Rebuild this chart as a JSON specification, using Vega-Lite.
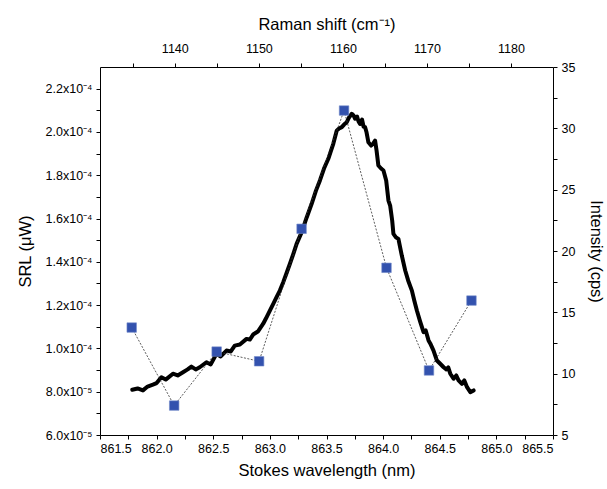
{
  "$schema": "https://vega.github.io/schema/vega-lite/v6.json",
  "width": 453,
  "height": 368,
  "autosize": {"type": "none"},
  "padding": {"left": 100, "top": 67, "right": 54, "bottom": 54},
  "config": {
    "font": "Liberation Sans",
    "view": {"stroke": null}
  },
  "resolve": {"scale": {"x": "independent", "y": "independent"}},
  "layer": [
    {
      "data": {
        "values": [
          {"wavelength": 861.785, "srl": 8.09e-5},
          {"wavelength": 861.832, "srl": 8.15e-5},
          {"wavelength": 861.879, "srl": 8.06e-5},
          {"wavelength": 861.92, "srl": 8.24e-5},
          {"wavelength": 861.967, "srl": 8.33e-5},
          {"wavelength": 862.0, "srl": 8.4e-5},
          {"wavelength": 862.042, "srl": 8.67e-5},
          {"wavelength": 862.08, "srl": 8.56e-5},
          {"wavelength": 862.144, "srl": 8.83e-5},
          {"wavelength": 862.186, "srl": 8.75e-5},
          {"wavelength": 862.233, "srl": 8.9e-5},
          {"wavelength": 862.274, "srl": 9.03e-5},
          {"wavelength": 862.307, "srl": 9.16e-5},
          {"wavelength": 862.345, "srl": 9.03e-5},
          {"wavelength": 862.381, "srl": 9.13e-5},
          {"wavelength": 862.44, "srl": 9.36e-5},
          {"wavelength": 862.478, "srl": 9.26e-5},
          {"wavelength": 862.528, "srl": 9.75e-5},
          {"wavelength": 862.566, "srl": 9.63e-5},
          {"wavelength": 862.617, "srl": 9.9e-5},
          {"wavelength": 862.655, "srl": 9.86e-5},
          {"wavelength": 862.69, "srl": 1.013e-4},
          {"wavelength": 862.735, "srl": 1.018e-4},
          {"wavelength": 862.794, "srl": 1.044e-4},
          {"wavelength": 862.823, "srl": 1.041e-4},
          {"wavelength": 862.852, "srl": 1.064e-4},
          {"wavelength": 862.894, "srl": 1.078e-4},
          {"wavelength": 862.941, "srl": 1.114e-4},
          {"wavelength": 862.965, "srl": 1.138e-4},
          {"wavelength": 863.0, "srl": 1.175e-4},
          {"wavelength": 863.031, "srl": 1.207e-4},
          {"wavelength": 863.059, "srl": 1.237e-4},
          {"wavelength": 863.088, "srl": 1.267e-4},
          {"wavelength": 863.118, "srl": 1.306e-4},
          {"wavelength": 863.146, "srl": 1.346e-4},
          {"wavelength": 863.177, "srl": 1.391e-4},
          {"wavelength": 863.208, "srl": 1.438e-4},
          {"wavelength": 863.236, "srl": 1.483e-4},
          {"wavelength": 863.281, "srl": 1.537e-4},
          {"wavelength": 863.325, "srl": 1.605e-4},
          {"wavelength": 863.369, "srl": 1.668e-4},
          {"wavelength": 863.407, "srl": 1.729e-4},
          {"wavelength": 863.442, "srl": 1.776e-4},
          {"wavelength": 863.478, "srl": 1.831e-4},
          {"wavelength": 863.516, "srl": 1.876e-4},
          {"wavelength": 863.54, "srl": 1.914e-4},
          {"wavelength": 863.56, "srl": 1.945e-4},
          {"wavelength": 863.59, "srl": 2.006e-4},
          {"wavelength": 863.611, "srl": 2.016e-4},
          {"wavelength": 863.635, "srl": 2.022e-4},
          {"wavelength": 863.655, "srl": 2.034e-4},
          {"wavelength": 863.679, "srl": 2.045e-4},
          {"wavelength": 863.699, "srl": 2.067e-4},
          {"wavelength": 863.723, "srl": 2.084e-4},
          {"wavelength": 863.739, "srl": 2.076e-4},
          {"wavelength": 863.752, "srl": 2.061e-4},
          {"wavelength": 863.77, "srl": 2.071e-4},
          {"wavelength": 863.783, "srl": 2.048e-4},
          {"wavelength": 863.796, "srl": 2.037e-4},
          {"wavelength": 863.814, "srl": 2.057e-4},
          {"wavelength": 863.827, "srl": 2.025e-4},
          {"wavelength": 863.841, "srl": 2.022e-4},
          {"wavelength": 863.854, "srl": 1.997e-4},
          {"wavelength": 863.87, "srl": 1.952e-4},
          {"wavelength": 863.894, "srl": 1.937e-4},
          {"wavelength": 863.912, "srl": 1.946e-4},
          {"wavelength": 863.929, "srl": 1.96e-4},
          {"wavelength": 863.942, "srl": 1.914e-4},
          {"wavelength": 863.958, "srl": 1.845e-4},
          {"wavelength": 863.982, "srl": 1.831e-4},
          {"wavelength": 864.003, "srl": 1.822e-4},
          {"wavelength": 864.027, "srl": 1.776e-4},
          {"wavelength": 864.047, "srl": 1.683e-4},
          {"wavelength": 864.062, "srl": 1.66e-4},
          {"wavelength": 864.08, "srl": 1.591e-4},
          {"wavelength": 864.091, "srl": 1.529e-4},
          {"wavelength": 864.115, "srl": 1.512e-4},
          {"wavelength": 864.135, "srl": 1.506e-4},
          {"wavelength": 864.165, "srl": 1.429e-4},
          {"wavelength": 864.195, "srl": 1.36e-4},
          {"wavelength": 864.221, "srl": 1.314e-4},
          {"wavelength": 864.254, "srl": 1.267e-4},
          {"wavelength": 864.275, "srl": 1.221e-4},
          {"wavelength": 864.298, "srl": 1.175e-4},
          {"wavelength": 864.327, "srl": 1.124e-4},
          {"wavelength": 864.357, "srl": 1.075e-4},
          {"wavelength": 864.376, "srl": 1.083e-4},
          {"wavelength": 864.401, "srl": 1.037e-4},
          {"wavelength": 864.416, "srl": 1.023e-4},
          {"wavelength": 864.445, "srl": 9.9e-5},
          {"wavelength": 864.475, "srl": 9.44e-5},
          {"wavelength": 864.504, "srl": 9.29e-5},
          {"wavelength": 864.534, "srl": 9.13e-5},
          {"wavelength": 864.558, "srl": 9.03e-5},
          {"wavelength": 864.575, "srl": 9.12e-5},
          {"wavelength": 864.593, "srl": 8.83e-5},
          {"wavelength": 864.622, "srl": 8.6e-5},
          {"wavelength": 864.646, "srl": 8.75e-5},
          {"wavelength": 864.666, "srl": 8.52e-5},
          {"wavelength": 864.696, "srl": 8.36e-5},
          {"wavelength": 864.717, "srl": 8.52e-5},
          {"wavelength": 864.741, "srl": 8.21e-5},
          {"wavelength": 864.77, "srl": 7.98e-5},
          {"wavelength": 864.799, "srl": 8.06e-5}
        ]
      },
      "mark": {"type": "line", "color": "black", "strokeWidth": 4, "strokeJoin": "round", "strokeCap": "round"},
      "encoding": {
        "x": {
          "field": "wavelength",
          "type": "quantitative",
          "scale": {"domain": [861.5, 865.5], "nice": false, "zero": false},
          "axis": {
            "orient": "bottom",
            "title": "Stokes wavelength (nm)",
            "grid": false,
            "domain": true,
            "ticks": true,
            "domainColor": "black",
            "domainWidth": 1,
            "tickColor": "black",
            "tickWidth": 1,
            "tickSize": 4,
            "labelColor": "black",
            "titleColor": "black",
            "labelFontSize": 12.5,
            "titleFontSize": 16.5,
            "titleFontWeight": "normal",
            "values": [861.5, 861.75, 862, 862.25, 862.5, 862.75, 863, 863.25, 863.5, 863.75, 864, 864.25, 864.5, 864.75, 865, 865.25, 865.5],
            "labelExpr": "round(datum.value * 4) % 2 == 0 ? format(datum.value, '.1f') : ''",
            "labelPadding": 3,
            "titlePadding": 8
          }
        },
        "y": {
          "field": "srl",
          "type": "quantitative",
          "scale": {"domain": [6e-5, 2.3e-4], "nice": false, "zero": false},
          "axis": {
            "orient": "left",
            "title": "SRL (μW)",
            "grid": false,
            "domain": true,
            "ticks": true,
            "domainColor": "black",
            "domainWidth": 1,
            "tickColor": "black",
            "tickWidth": 1,
            "tickSize": 4,
            "labelColor": "black",
            "titleColor": "black",
            "labelFontSize": 12.5,
            "titleFontSize": 16.5,
            "titleFontWeight": "normal",
            "values": [6e-5, 7e-5, 8e-5, 9e-5, 1e-4, 1.1e-4, 1.2e-4, 1.3e-4, 1.4e-4, 1.5e-4, 1.6e-4, 1.7e-4, 1.8e-4, 1.9e-4, 2e-4, 2.1e-4, 2.2e-4],
            "labelExpr": "round(datum.value * 1e5) % 2 != 0 ? '' : (datum.value >= 9.9e-5 ? format(datum.value * 1e4, '.1f') + 'x10⁻⁴' : format(datum.value * 1e5, '.1f') + 'x10⁻⁵')",
            "labelPadding": 4,
            "titlePadding": 12
          }
        }
      }
    },
    {
      "data": {
        "values": [
          {"wavelength": 861.78, "intensity": 13.76},
          {"wavelength": 862.155, "intensity": 7.4},
          {"wavelength": 862.53, "intensity": 11.8},
          {"wavelength": 862.905, "intensity": 11.01},
          {"wavelength": 863.28, "intensity": 21.81},
          {"wavelength": 863.655, "intensity": 31.45},
          {"wavelength": 864.03, "intensity": 18.63},
          {"wavelength": 864.405, "intensity": 10.26},
          {"wavelength": 864.78, "intensity": 15.96}
        ]
      },
      "encoding": {
        "x": {
          "field": "wavelength",
          "type": "quantitative",
          "scale": {"domain": [861.5, 865.5], "nice": false, "zero": false},
          "axis": null
        },
        "y": {
          "field": "intensity",
          "type": "quantitative",
          "scale": {"domain": [5, 35], "nice": false, "zero": false},
          "axis": {
            "orient": "right",
            "title": "Intensity (cps)",
            "grid": false,
            "domain": true,
            "ticks": true,
            "domainColor": "black",
            "domainWidth": 1,
            "tickColor": "black",
            "tickWidth": 1,
            "tickSize": 4,
            "labelColor": "black",
            "titleColor": "black",
            "labelFontSize": 12.5,
            "titleFontSize": 16.5,
            "titleFontWeight": "normal",
            "values": [5, 7.5, 10, 12.5, 15, 17.5, 20, 22.5, 25, 27.5, 30, 32.5, 35],
            "labelExpr": "datum.value % 5 == 0 ? format(datum.value, 'd') : ''",
            "labelPadding": 4,
            "titlePadding": 13
          }
        }
      },
      "layer": [
        {
          "mark": {"type": "line", "color": "#333333", "strokeWidth": 0.8, "strokeDash": [2, 1.5]}
        },
        {
          "mark": {"type": "square", "size": 90, "color": "#3352AE", "opacity": 1, "stroke": "#6f86c8", "strokeWidth": 0.6}
        }
      ]
    },
    {
      "data": {"values": [{"raman": 1140}, {"raman": 1180}]},
      "mark": {"type": "point", "opacity": 0},
      "encoding": {
        "x": {
          "field": "raman",
          "type": "quantitative",
          "scale": {"domain": [1131.1, 1185], "nice": false, "zero": false},
          "axis": {
            "orient": "top",
            "title": "Raman shift (cm⁻¹)",
            "grid": false,
            "domain": true,
            "ticks": true,
            "domainColor": "black",
            "domainWidth": 1,
            "tickColor": "black",
            "tickWidth": 1,
            "tickSize": 4,
            "labelColor": "black",
            "titleColor": "black",
            "labelFontSize": 12.5,
            "titleFontSize": 16.5,
            "titleFontWeight": "normal",
            "values": [1135, 1140, 1145, 1150, 1155, 1160, 1165, 1170, 1175, 1180],
            "labelExpr": "datum.value % 10 == 0 ? format(datum.value, 'd') : ''",
            "labelPadding": 8,
            "titlePadding": 10
          }
        }
      }
    }
  ]
}
